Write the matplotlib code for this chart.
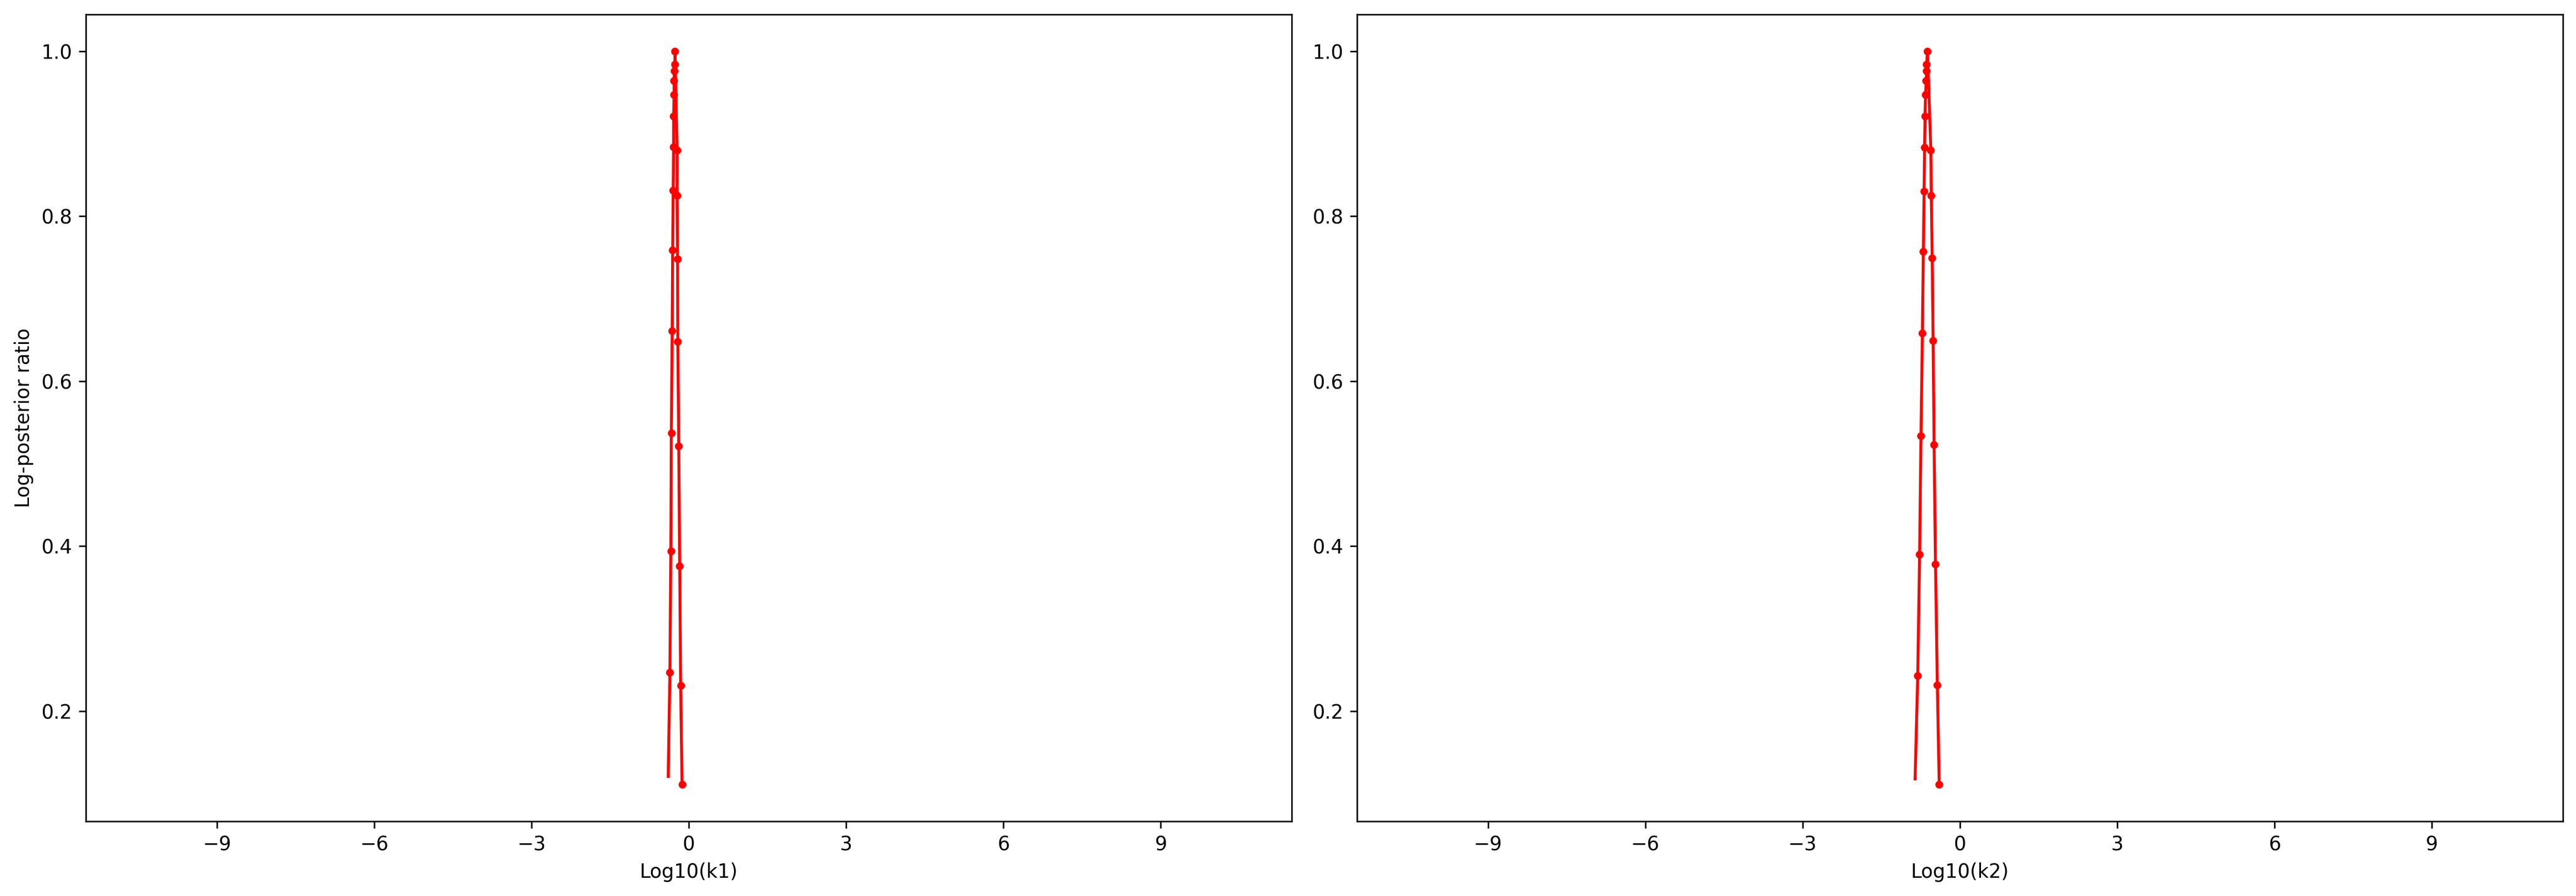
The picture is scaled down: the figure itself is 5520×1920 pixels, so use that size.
import matplotlib
matplotlib.use("Agg")
import matplotlib.pyplot as plt

# Log10(k1) profile (ordered left branch -> peak -> right branch)
log_k1 = [-0.392, -0.360, -0.342, -0.333, -0.316, -0.307, -0.298, -0.289,
          -0.289, -0.280, -0.280, -0.276, -0.267, -0.262,
          -0.223, -0.223, -0.214, -0.209, -0.191, -0.173, -0.155, -0.128]
ratio_k1 = [0.121, 0.247, 0.394, 0.537, 0.661, 0.759, 0.831, 0.884,
            0.921, 0.947, 0.964, 0.976, 0.984, 1.000,
            0.880, 0.825, 0.748, 0.648, 0.521, 0.376, 0.231, 0.111]

# Log10(k2) profile
log_k2 = [-0.854, -0.804, -0.768, -0.742, -0.715, -0.697, -0.682, -0.673,
          -0.664, -0.655, -0.643, -0.635, -0.635, -0.617,
          -0.554, -0.545, -0.528, -0.510, -0.492, -0.465, -0.430, -0.394]
ratio_k2 = [0.118, 0.243, 0.390, 0.534, 0.658, 0.757, 0.830, 0.883,
            0.921, 0.947, 0.964, 0.976, 0.984, 1.000,
            0.880, 0.825, 0.749, 0.649, 0.523, 0.378, 0.232, 0.111]

x_labels = ["Log10(k1)", "Log10(k2)"]
y_label = "Log-posterior ratio"

fig, axes = plt.subplots(1, 2, figsize=(18.4, 6.4), dpi=300)
fig.subplots_adjust(left=0.0333, right=0.9949, bottom=0.0833, top=0.9839, wspace=0.054)

for ax, xs, ys, xl in zip(axes, [log_k1, log_k2], [ratio_k1, ratio_k2], x_labels):
    ax.plot(xs, ys, "r.-", markevery=slice(1, None))
    ax.set_xlim(-11.5, 11.5)
    ax.set_xticks([-9, -6, -3, 0, 3, 6, 9])
    ax.set_xlabel(xl)

axes[0].set_ylabel(y_label)

fig.savefig("out.png", dpi=300)
